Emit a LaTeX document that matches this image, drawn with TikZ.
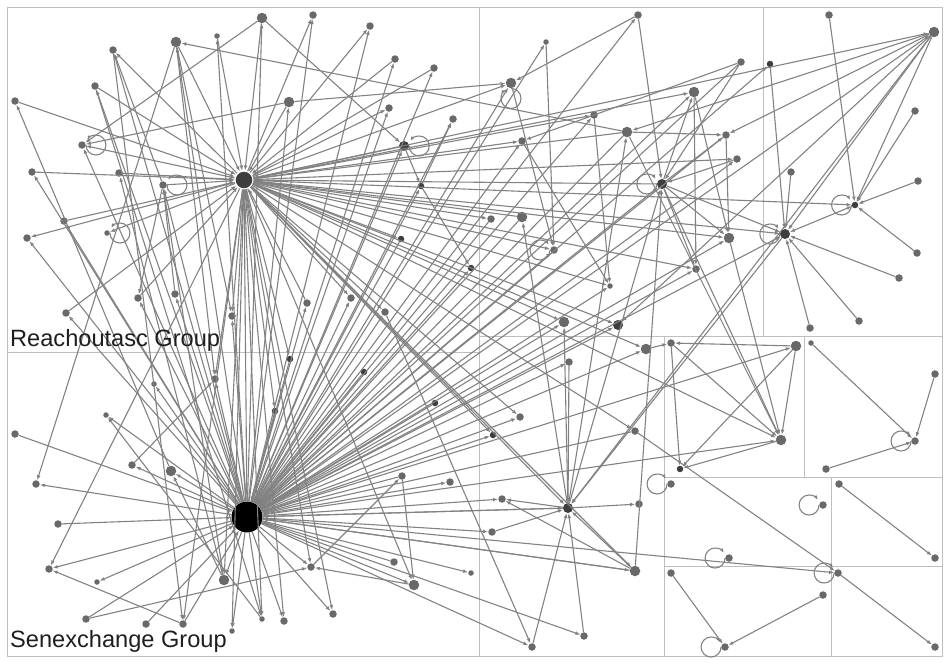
\documentclass[tikz,border=0pt]{standalone}
\usepackage{fontspec}
\setmainfont{Liberation Sans}
\usetikzlibrary{arrows.meta}
\definecolor{linkgray}{HTML}{828282}
\definecolor{vxgray}{HTML}{696969}
\definecolor{vxdark}{HTML}{3E3E3E}
\definecolor{cellgray}{HTML}{BEBEBE}
\definecolor{titleink}{HTML}{1E1E1E}

\begin{document}
\begin{tikzpicture}[x=1pt, y=-1pt,
    cellline/.style={draw=cellgray, line width=0.9pt},
    link/.style={draw=linkgray, line width=1.1pt, -{Latex[length=5pt, width=3.8pt]}},
    inlink/.style={{Latex[length=5pt, width=3.8pt]}-},
    twoway/.style={{Latex[length=5pt, width=3.8pt]}-{Latex[length=5pt, width=3.8pt]}},
    selfloop/.style={draw=linkgray, line width=1.1pt, -{Latex[length=4.5pt, width=3.6pt]}},
    vx/.style={circle, fill=vxgray, inner sep=0pt, minimum size=7.5pt},
    vxs/.style={vx, minimum size=5.5pt},
    vxm/.style={vx, minimum size=10.5pt},
    vxd/.style={vx, fill=vxdark, minimum size=6.5pt},
    vxdm/.style={vx, fill=vxdark, minimum size=10pt},
    hubr/.style={circle, fill=vxdark, draw=white, line width=1.2pt, inner sep=0pt, minimum size=18pt},
    hubs/.style={circle, fill=black, inner sep=0pt, minimum size=31pt},
    grptitle/.style={anchor=base west, inner sep=0pt, text=titleink, font=\fontsize{23.6}{26}\selectfont},
  ]
  \useasboundingbox (0,0) rectangle (950,662);

  % treemap cells
  \draw[cellline] (7,7) rectangle (942,656);
  \draw[cellline] (479,7) -- (479,656);
  \draw[cellline] (7,352) -- (479,352);
  \draw[cellline] (479,336) -- (942,336);
  \draw[cellline] (763,7) -- (763,336);
  \draw[cellline] (664,336) -- (664,656);
  \draw[cellline] (804,336) -- (804,477);
  \draw[cellline] (664,477) -- (942,477);
  \draw[cellline] (831,477) -- (831,656);
  \draw[cellline] (664,566) -- (942,566);

  % Reachoutasc vertices
  \node[hubr] (ra) at (244,180) {};
  \node[vxm] (r1) at (262,18) {};
  \node[vx] (r2) at (313,15) {};
  \node[vxs] (r3) at (217,36) {};
  \node[vxm] (r4) at (176,42) {};
  \node[vx] (r5) at (113,50) {};
  \node[vx] (r6) at (95,86) {};
  \node[vx] (r7) at (15,101) {};
  \node[vxm] (r8) at (289,102) {};
  \node[vx] (r9) at (82,145) {};
  \node[vx] (r10) at (32,172) {};
  \node[vx] (r11) at (119,173) {};
  \node[vx] (r12) at (163,185) {};
  \node[vx] (r13) at (64,221) {};
  \node[vxs] (r14) at (107,233) {};
  \node[vx] (r15) at (27,238) {};
  \node[vx] (r16) at (138,298) {};
  \node[vx] (r17) at (175,294) {};
  \node[vx] (r18) at (66,313) {};
  \node[vx] (r19) at (232,316) {};
  \node[vx] (r20) at (307,303) {};
  \node[vx] (r21) at (370,26) {};
  \node[vx] (r22) at (395,59) {};
  \node[vx] (r23) at (434,68) {};
  \node[vx] (r24) at (389,108) {};
  \node[vx] (r25) at (453,119) {};
  \node[vxdm] (r26) at (404,146) {};
  \node[vxd] (r27) at (421,186) {};
  \node[vxd] (r28) at (401,239) {};
  \node[vxd] (r29) at (471,268) {};
  \node[vx] (r30) at (351,298) {};
  \node[vx] (r31) at (385,312) {};

  % Senexchange vertices
  \node[hubs] (sa) at (247,517) {};
  \node[vxd] (s1) at (290,359) {};
  \node[vx] (s2) at (215,379) {};
  \node[vxs] (s3) at (154,384) {};
  \node[vxd] (s4) at (275,411) {};
  \node[vxs] (s5) at (106,415) {};
  \node[vx] (s6) at (15,434) {};
  \node[vx] (s7) at (132,465) {};
  \node[vxm] (s8) at (171,471) {};
  \node[vx] (s9) at (36,484) {};
  \node[vx] (s10) at (58,524) {};
  \node[vx] (s11) at (49,569) {};
  \node[vxs] (s12) at (97,582) {};
  \node[vxm] (s13) at (224,580) {};
  \node[vx] (s14) at (311,567) {};
  \node[vx] (s15) at (86,619) {};
  \node[vx] (s16) at (146,624) {};
  \node[vx] (s17) at (183,624) {};
  \node[vxs] (s18) at (232,631) {};
  \node[vxs] (s19) at (262,619) {};
  \node[vx] (s20) at (284,621) {};
  \node[vxd] (s21) at (364,372) {};
  \node[vxd] (s22) at (435,403) {};
  \node[vx] (s23) at (402,476) {};
  \node[vx] (s24) at (450,482) {};
  \node[vx] (s25) at (394,562) {};
  \node[vxs] (s26) at (471,573) {};
  \node[vxm] (s27) at (414,585) {};
  \node[vx] (s28) at (333,614) {};

  % upper middle cell
  \node[vxm] (c1) at (511,83) {};
  \node[vxs] (c2) at (546,42) {};
  \node[vx] (c3) at (638,15) {};
  \node[vx] (c4) at (594,115) {};
  \node[vxm] (c5) at (627,132) {};
  \node[vx] (c6) at (522,141) {};
  \node[vx] (c7) at (491,219) {};
  \node[vxm] (c8) at (522,217) {};
  \node[vx] (c9) at (554,250) {};
  \node[vxs] (c10) at (610,286) {};
  \node[vxm] (c11) at (564,322) {};
  \node[vxdm] (c12) at (618,325) {};
  \node[vx] (c13) at (741,62) {};
  \node[vxm] (c14) at (694,92) {};
  \node[vx] (c15) at (726,135) {};
  \node[vx] (c16) at (737,159) {};
  \node[vxdm] (c17) at (662,184) {};
  \node[vxm] (c18) at (729,238) {};
  \node[vx] (c19) at (696,269) {};

  % upper right cell
  \node[vx] (d1) at (829,15) {};
  \node[vxm] (d2) at (934,32) {};
  \node[vxd] (d3) at (770,64) {};
  \node[vx] (d4) at (915,111) {};
  \node[vx] (d5) at (791,172) {};
  \node[vx] (d6) at (918,181) {};
  \node[vxd] (d7) at (855,205) {};
  \node[vxdm] (d8) at (785,234) {};
  \node[vx] (d9) at (917,253) {};
  \node[vx] (d10) at (899,278) {};
  \node[vx] (d11) at (859,321) {};
  \node[vx] (d12) at (810,328) {};

  % lower middle cell
  \node[vx] (e1) at (569,362) {};
  \node[vx] (e2) at (520,417) {};
  \node[vxd] (e3) at (493,435) {};
  \node[vx] (e4) at (635,431) {};
  \node[vx] (e5) at (502,499) {};
  \node[vxdm] (e6) at (568,508) {};
  \node[vx] (e7) at (639,504) {};
  \node[vx] (e8) at (492,532) {};
  \node[vxm] (e9) at (635,571) {};
  \node[vx] (e10) at (584,636) {};
  \node[vx] (e11) at (532,647) {};
  \node[vxm] (e12) at (646,349) {};

  % small cells
  \node[vx] (f1) at (671,343) {};
  \node[vxm] (f2) at (796,346) {};
  \node[vxm] (f3) at (781,440) {};
  \node[vxd] (f4) at (680,469) {};
  \node[vxs] (g1) at (811,343) {};
  \node[vx] (g2) at (935,374) {};
  \node[vx] (g3) at (915,441) {};
  \node[vx] (g4) at (826,469) {};
  \node[vx] (h1) at (671,484) {};
  \node[vx] (h2) at (823,505) {};
  \node[vx] (h3) at (729,558) {};
  \node[vx] (i1) at (839,484) {};
  \node[vx] (i2) at (935,558) {};
  \node[vx] (j1) at (671,573) {};
  \node[vx] (j2) at (823,595) {};
  \node[vx] (j3) at (725,647) {};
  \node[vx] (k1) at (838,573) {};
  \node[vx] (k2) at (935,647) {};

  % links of the two big hubs
  \draw[link] (ra) edge (r2) edge (r5) edge (r9) edge (r14) edge (r15) edge (r19) edge (r21)
    edge (r24) edge (r28) edge (r30) edge (r31)
    edge (s1) edge (s2) edge (s4) edge (s11) edge (s13) edge (s14) edge (s17) edge (s18)
    edge (s19) edge (s20) edge (s27) edge (s28)
    edge (c1) edge (c4) edge (c6) edge (c7) edge (c9) edge (c10) edge (c11) edge (c12) edge (c14)
    edge (c16) edge (c18) edge (c19)
    edge (d2) edge (d7) edge (d8) edge (e2) edge (e3) edge (e4) edge (e6) edge (e9) edge (e12) edge (f3)
    edge[inlink] (r1) edge[inlink] (r3) edge[inlink] (r4) edge[inlink] (r6) edge[inlink] (r7)
    edge[inlink] (r8) edge[inlink] (r10) edge[inlink] (r11) edge[inlink] (r12) edge[inlink] (r13)
    edge[inlink] (r16) edge[inlink] (r18) edge[inlink] (r20) edge[inlink] (r22) edge[inlink] (r23)
    edge[inlink] (r26) edge[inlink] (c5) edge[inlink] (c8) edge[inlink] (c17);
  \draw[link] (sa) edge (ra)
    edge (s2) edge (s3) edge (s5) edge (s7) edge (s8) edge (s9) edge (s11) edge (s12) edge (s13)
    edge (s14) edge (s18) edge (s19) edge (s20) edge (s24) edge (s26) edge (s27) edge (s28)
    edge (r1) edge (r2) edge (r3) edge (r4) edge (r5) edge (r6) edge (r8) edge (r9) edge (r10)
    edge (r12) edge (r13) edge (r15) edge (r16) edge (r17) edge (r18) edge (r19) edge (r20)
    edge (r21) edge (r22) edge (r23) edge (r24) edge (r25) edge (r26) edge (r27)
    edge (r29) edge (r30) edge (r31)
    edge (c1) edge (c2) edge (c3) edge (c4) edge (c6) edge (c9) edge (c10) edge (c11) edge (c12)
    edge (c14) edge (c16) edge (c17) edge (c18) edge (c19) edge (d2) edge (d3) edge (d8)
    edge (e1) edge (e2) edge (e3) edge (e5) edge (e6) edge (e8) edge (e9) edge (e10) edge (e11)
    edge (e12) edge (f2) edge (f3) edge (k1)
    edge[inlink] (s1) edge[inlink] (s4) edge[inlink] (s6) edge[inlink] (s10) edge[inlink] (s15)
    edge[inlink] (s16) edge[inlink] (s17) edge[inlink] (s21) edge[inlink] (s22) edge[inlink] (s23)
    edge[inlink] (s25) edge[inlink] (r28) edge[inlink] (c5) edge[inlink] (c7) edge[inlink] (c8)
    edge[inlink] (c13) edge[inlink] (c15) edge[inlink] (e4) edge[inlink] (e6) edge[inlink] (e9);

  % Reachoutasc and Senexchange side links
  \draw[link] (r1) edge (r9) edge (r26);
  \draw[link] (r4) edge (r19) edge (s9) edge (s2);
  \draw[link] (r5) edge (s17);
  \draw[link] (r6) edge (s19);
  \draw[link] (r8) edge (r9) edge (c1);
  \draw[link] (r12) edge (r5) edge (r16);
  \draw[link] (r17) edge (r12);
  \draw[link] (r26) edge (r27);
  \draw[link] (r27) edge (r29) edge (r25);
  \draw[link] (r31) edge (e11);
  \draw[link] (s8) edge (r7);
  \draw[link] (s13) edge (r11) edge (r12) edge (s8);
  \draw[link] (s7) edge (s2);
  \draw[link] (s19) edge (s5);
  \draw[link] (s17) edge (s11);
  \draw[link] (s15) edge (s14);
  \draw[link] (s14) edge (s23);
  \draw[link] (s23) edge (s27);
  \draw[link] (s27) edge (s14);

  % upper middle and right cells
  \draw[link] (c5) edge (r4) edge (f3) edge (c15);
  \draw[link] (c3) edge (c17) edge (c1);
  \draw[link] (c1) edge (c9);
  \draw[link] (c2) edge (c9);
  \draw[link] (c4) edge (c10);
  \draw[link] (c6) edge (c10);
  \draw[link] (c13) edge (c17) edge (c6);
  \draw[link] (c14) edge (c18) edge (c19);
  \draw[link] (c15) edge (c18);
  \draw[link] (c16) edge (c17);
  \draw[link] (c17) edge (c14) edge (c15) edge (c18) edge (c19) edge (f3) edge (d8);
  \draw[link] (c18) edge (f3);
  \draw[link] (d2) edge (c5) edge (c12) edge (c15) edge (d7) edge (d8) edge (e6);
  \draw[link] (d1) edge (d7) (d4) edge (d7) (d6) edge (d7) (d9) edge (d7);
  \draw[link] (d3) edge (d8) (d5) edge (d8) (d10) edge (d8) (d11) edge (d8) (d12) edge (d8);
  \draw[link] (d7) edge[twoway] (d8);
  \draw[link] (d8) edge (e6);

  % lower middle cell
  \draw[link] (e6) edge (e5) edge (e7) edge (c8) edge (c11) edge (c17) edge (c5);
  \draw[link] (e1) edge (e6) (e8) edge (e6) (e10) edge (e6) (e11) edge (e6);
  \draw[link] (e9) edge (e6) edge (e5) edge (c17);
  \draw[link] (e12) edge (f1);
  \draw[link] (e4) edge (k1);

  % small cells
  \draw[link] (f2) edge (f1) edge (f4) edge (f3);
  \draw[link] (f1) edge (f3) edge (f4);
  \draw[link] (f3) edge (f4);
  \draw[link] (g1) edge (g3) (g2) edge (g3) (g4) edge (g3);
  \draw[link] (i1) edge (i2);
  \draw[link] (j1) edge (j3) (j2) edge (j3);
  \draw[link] (k1) edge (k2);

  % self loops
  \draw[selfloop] (r9.east) arc[start angle=180, end angle=-150, radius=10];
  \draw[selfloop] (r12.east) arc[start angle=180, end angle=-150, radius=10];
  \draw[selfloop] (r14.east) arc[start angle=180, end angle=-150, radius=10];
  \draw[selfloop] (r26.east) arc[start angle=180, end angle=-150, radius=10];
  \draw[selfloop] (c1.south) arc[start angle=-90, end angle=240, radius=10];
  \draw[selfloop] (c9.west) arc[start angle=0, end angle=330, radius=10];
  \draw[selfloop] (c17.west) arc[start angle=0, end angle=330, radius=10];
  \draw[selfloop] (d7.west) arc[start angle=0, end angle=330, radius=10];
  \draw[selfloop] (d8.west) arc[start angle=0, end angle=330, radius=10];
  \draw[selfloop] (g3.west) arc[start angle=0, end angle=330, radius=10];
  \draw[selfloop] (h1.west) arc[start angle=0, end angle=330, radius=10];
  \draw[selfloop] (h2.west) arc[start angle=0, end angle=330, radius=10];
  \draw[selfloop] (h3.west) arc[start angle=0, end angle=330, radius=10];
  \draw[selfloop] (j3.west) arc[start angle=0, end angle=330, radius=10];
  \draw[selfloop] (k1.west) arc[start angle=0, end angle=330, radius=10];

  % group titles
  \node[grptitle] (reachtitle) at (10,346) {Reachoutasc Group};
  \node[grptitle] (sentitle) at (10,647) {Senexchange Group};
\end{tikzpicture}
\end{document}
